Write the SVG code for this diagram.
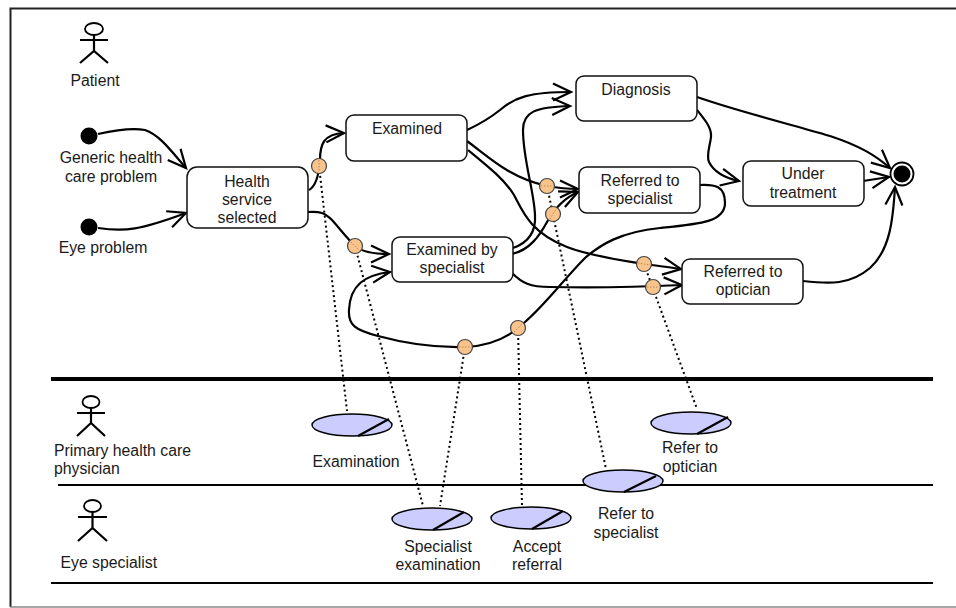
<svg xmlns="http://www.w3.org/2000/svg" width="956" height="608" viewBox="0 0 956 608">
<style>
text{font-family:"Liberation Sans",Arial,sans-serif;font-size:15.8px;fill:#1a1a1a;text-anchor:middle}
.l{text-anchor:start}
.n{fill:#fff;stroke:#111;stroke-width:1.5}
.c{fill:none;stroke:#000;stroke-width:2.2;marker-end:url(#a)}
.d{fill:none;stroke:#000;stroke-width:2;stroke-dasharray:2 3}
.t{fill:#f9c48c;stroke:#444;stroke-width:1.2}
.m{fill:none;stroke:#b98a5c;stroke-width:1;stroke-dasharray:1.5 1.5}
.e{fill:#ccf;stroke:#000;stroke-width:1.4}
.s{stroke:#000;stroke-width:2.2;fill:none}
.b{stroke:#000;fill:none}
.h{stroke:#000;stroke-width:1.8;fill:#fff}
</style>
<defs>
<marker id="a" markerUnits="userSpaceOnUse" markerWidth="24" markerHeight="22" refX="20" refY="11" orient="auto" overflow="visible">
<path d="M2,2.500 L20,11 L2,19.500" fill="none" stroke="#000" stroke-width="2.2"/>
</marker>
</defs>
<rect width="956" height="608" fill="#fff"/>
<path d="M956,8.500H10.500V607" fill="none" stroke="#222" stroke-width="2"/>
<path d="M10,607H956" fill="none" stroke="#888" stroke-width="1.500"/>
<g id="swimlanes">
<path class="b" stroke-width="4" d="M51,379H933"/>
<path class="b" stroke-width="2" d="M58,485H933"/>
<path class="b" stroke-width="2" d="M51,583H933"/>
</g>
<g id="connectors">
<path class="c" d="M98,134 C120,129 135,128 145,130 C160,135 172,152 186,168"/>
<path class="c" d="M98,228 C125,232 140,230 186,213"/>
<path class="c" d="M309,190 C316,186 319,175 320,160 C320,145 323,134 344,133"/>
<path class="c" d="M308,212 C320,211 325,213 332,220 C340,229 347,238 355,246 C362,252 372,254 389,254"/>
<path class="c" d="M467,130 C480,124 490,118 500,110 C515,97 530,92 571,92"/>
<path class="c" d="M467,141 C490,158 510,178 547,186 C558,188 566,189 578,189"/>
<path class="c" d="M468,150 C490,168 505,180 514,195 C523,212 530,232 567,247 C590,256 620,260 644,264 C658,266 668,267 681,269"/>
<path class="c" d="M513,248 C530,242 536,230 535,215 C534,190 523,160 523,130 C523,112 535,107 570,106"/>
<path class="c" d="M512,254 C530,250 540,235 547,222 C552,213 562,199 578,192"/>
<path class="c" d="M512,273 C522,283 530,287 550,287 C590,288 640,287 682,285"/>
<path class="c" d="M699,185 C715,184 725,186 725,203 C725,222 700,224 660,228 C620,232 600,245 585,258 C565,278 545,305 525,322 C510,337 490,346 465,347 C430,348 400,342 378,336 C355,330 348,325 349,310 C350,285 365,275 390,272"/>
<path class="c" d="M697,97 C740,112 790,124 830,136 C860,146 875,155 890,168"/>
<path class="c" d="M697,110 C705,120 712,128 711,137 C710,146 706,155 709,162 C714,172 725,178 739,181"/>
<path class="c" d="M863,181 L889,177"/>
<path class="c" d="M803,281 C830,284 850,285 870,268 C890,250 893,220 895,187"/>
</g>
<g id="dotted-links">
<path class="d" d="M319,166 L347,411"/>
<path class="d" d="M355,246 L423,506"/>
<path class="d" d="M465,347 L440,506"/>
<path class="d" d="M518,328 L522,506"/>
<path class="d" d="M547,186 L606,469"/>
<path class="d" d="M644,264 L697,409"/>
</g>
<g id="tokens">
<circle class="t" cx="319" cy="166" r="7.500"/><path class="m" d="M319,160V172"/>
<circle class="t" cx="355" cy="246" r="7.500"/><path class="m" d="M351,242L359,250"/>
<circle class="t" cx="547" cy="186" r="7.500"/><path class="m" d="M541,186H553"/>
<circle class="t" cx="553" cy="214" r="7.500"/><path class="m" d="M550,219L556,209"/>
<circle class="t" cx="644" cy="264" r="7.500"/><path class="m" d="M638,263L650,265"/>
<circle class="t" cx="653" cy="287" r="7.500"/><path class="m" d="M647,287H659"/>
<circle class="t" cx="465" cy="347" r="7.500"/><path class="m" d="M459,347H471"/>
<circle class="t" cx="518" cy="328" r="7.500"/><path class="m" d="M514,332L522,324"/>
</g>
<g id="patient"><ellipse class="h" cx="94" cy="29" rx="9" ry="6"/><path class="s" d="M94,35V51M80,40H108M80,63L94,51L108,63"/><text x="95" y="86">Patient</text></g>
<g id="physician"><ellipse class="h" cx="91" cy="402" rx="8.500" ry="6"/><path class="s" d="M91,408V423M77,413H105M77,436L91,423L105,436"/><text class="l" x="54" y="456">Primary health care</text><text class="l" x="54" y="474">physician</text></g>
<g id="eye-specialist"><ellipse class="h" cx="92.500" cy="506" rx="8.500" ry="6"/><path class="s" d="M92.500,512V528M78,517H107M78,541L92.500,528L107,541"/><text class="l" x="60.500" y="568">Eye specialist</text></g>
<g id="start-generic"><circle cx="89" cy="136" r="8.500"/><text x="111" y="163">Generic health</text><text x="111" y="182">care problem</text></g>
<g id="start-eye"><circle cx="89" cy="227" r="8.500"/><text x="103" y="253">Eye problem</text></g>
<g id="health-service"><rect class="n" x="187" y="167" width="121" height="61" rx="10"/><text x="247" y="187">Health</text><text x="247" y="205">service</text><text x="247" y="223">selected</text></g>
<g id="examined"><rect class="n" x="346" y="115" width="121" height="46" rx="8"/><text x="407" y="134">Examined</text></g>
<g id="examined-by-specialist"><rect class="n" x="392" y="237" width="121" height="45" rx="8"/><text x="452" y="255">Examined by</text><text x="452" y="273">specialist</text></g>
<g id="diagnosis"><rect class="n" x="576" y="76" width="121" height="45" rx="8"/><text x="636" y="95">Diagnosis</text></g>
<g id="referred-specialist"><rect class="n" x="579" y="167" width="121" height="46" rx="8"/><text x="640" y="186">Referred to</text><text x="640" y="204">specialist</text></g>
<g id="under-treatment"><rect class="n" x="743" y="161" width="121" height="45" rx="8"/><text x="803" y="179">Under</text><text x="803" y="198">treatment</text></g>
<g id="referred-optician"><rect class="n" x="682" y="259" width="121" height="45" rx="8"/><text x="743" y="277">Referred to</text><text x="743" y="295">optician</text></g>
<g id="end"><circle cx="902" cy="174" r="11.500" fill="#fff" stroke="#000" stroke-width="1.800"/><circle cx="902" cy="174" r="8.500"/></g>
<g id="examination"><ellipse class="e" cx="352" cy="425" rx="40" ry="11"/><path class="s" d="M358,436L389,419"/><text x="356" y="467">Examination</text></g>
<g id="specialist-examination"><ellipse class="e" cx="432" cy="519" rx="40" ry="11"/><path class="s" d="M433,530L464,512"/><text x="438" y="552">Specialist</text><text x="438" y="570">examination</text></g>
<g id="accept-referral"><ellipse class="e" cx="531" cy="518" rx="40" ry="11"/><path class="s" d="M532,529L563,511"/><text x="537" y="552">Accept</text><text x="537" y="570">referral</text></g>
<g id="refer-specialist"><ellipse class="e" cx="623" cy="481" rx="40" ry="11"/><path class="s" d="M624,492L656,476"/><text x="626" y="519">Refer to</text><text x="626" y="538">specialist</text></g>
<g id="refer-optician"><ellipse class="e" cx="691" cy="423" rx="40" ry="11"/><path class="s" d="M697,434L728,417"/><text x="690" y="453">Refer to</text><text x="690" y="472">optician</text></g>
</svg>
